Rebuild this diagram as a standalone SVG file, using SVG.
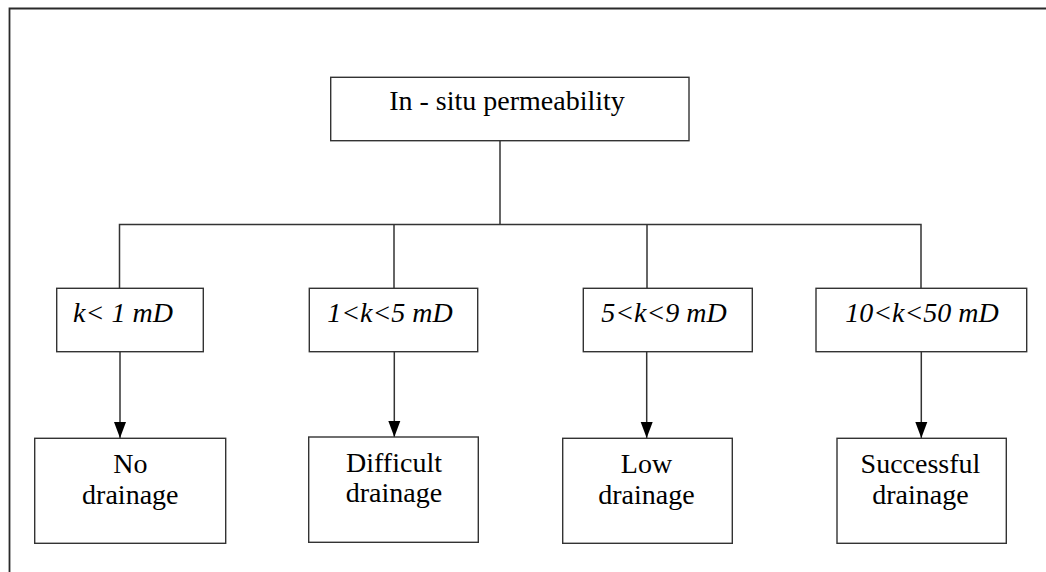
<svg xmlns="http://www.w3.org/2000/svg" width="1046" height="572" viewBox="0 0 1046 572">
  <style>
    .box { fill: #ffffff; stroke: #333333; stroke-width: 1.4; }
    .wire { fill: none; stroke: #333333; stroke-width: 1.5; }
    .lbl { font-family: "Liberation Serif", "Times New Roman", serif; font-size: 28px; fill: #000000; text-anchor: middle; }
    .range { font-style: italic; }
  </style>
  <defs>
    <marker id="arrow" markerWidth="17" markerHeight="13" refX="16" refY="6.5" orient="auto" markerUnits="userSpaceOnUse">
      <path d="M0,0.5 L16,6.5 L0,12.5 Z" fill="#000000"/>
    </marker>
  </defs>

  <rect width="1046" height="572" fill="#ffffff"/>

  <!-- page frame -->
  <path d="M9.5,572 V8.5 H1046" fill="none" stroke="#2a2a2a" stroke-width="1.8"/>

  <!-- connectors -->
  <g id="connectors">
    <path class="wire" d="M500,141 V224.5"/>
    <path class="wire" d="M119.5,288 V224.5 H921 V288"/>
    <path class="wire" d="M394,224.5 V288"/>
    <path class="wire" d="M647,224.5 V288"/>
    <path class="wire" d="M120,352 V438" marker-end="url(#arrow)"/>
    <path class="wire" d="M394.3,352 V437" marker-end="url(#arrow)"/>
    <path class="wire" d="M646.7,352 V438" marker-end="url(#arrow)"/>
    <path class="wire" d="M921.3,352 V438" marker-end="url(#arrow)"/>
  </g>

  <!-- root -->
  <g id="root">
    <rect class="box" x="330.7" y="77.3" width="358.3" height="63.4"/>
    <text class="lbl" x="507" y="110">In - situ permeability</text>
  </g>

  <!-- permeability ranges -->
  <g id="range1">
    <rect class="box" x="56.7" y="288.3" width="146.6" height="63.4"/>
    <text class="lbl range" x="123" y="322">k&lt; 1 mD</text>
  </g>
  <g id="range2">
    <rect class="box" x="309.3" y="288.3" width="168.4" height="63.4"/>
    <text class="lbl range" x="390" y="322">1&lt;k&lt;5 mD</text>
  </g>
  <g id="range3">
    <rect class="box" x="583.3" y="288.3" width="169" height="63.4"/>
    <text class="lbl range" x="664" y="322">5&lt;k&lt;9 mD</text>
  </g>
  <g id="range4">
    <rect class="box" x="816" y="288.3" width="210.7" height="63.4"/>
    <text class="lbl range" x="922" y="322">10&lt;k&lt;50 mD</text>
  </g>

  <!-- drainage outcomes -->
  <g id="outcome1">
    <rect class="box" x="34.7" y="438.3" width="191" height="105"/>
    <text class="lbl" x="130.3" y="472.7">No</text>
    <text class="lbl" x="130.3" y="503.5">drainage</text>
  </g>
  <g id="outcome2">
    <rect class="box" x="308.7" y="437" width="169.6" height="105.3"/>
    <text class="lbl" x="394" y="471.5">Difficult</text>
    <text class="lbl" x="394" y="502.3">drainage</text>
  </g>
  <g id="outcome3">
    <rect class="box" x="562.7" y="438.3" width="169.6" height="105"/>
    <text class="lbl" x="646.5" y="472.7">Low</text>
    <text class="lbl" x="646.5" y="503.5">drainage</text>
  </g>
  <g id="outcome4">
    <rect class="box" x="837" y="438.3" width="169.3" height="105"/>
    <text class="lbl" x="920.5" y="472.7">Successful</text>
    <text class="lbl" x="920.5" y="503.5">drainage</text>
  </g>
</svg>
